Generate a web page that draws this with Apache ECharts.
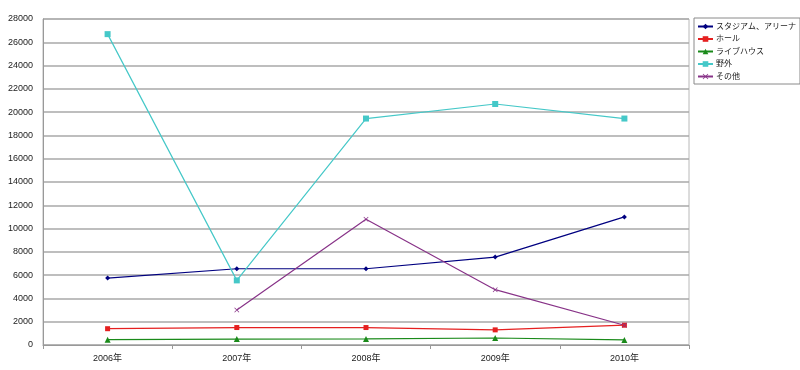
<!DOCTYPE html>
<html><head><meta charset="utf-8">
<script src="https://cdn.jsdelivr.net/npm/echarts@6/dist/echarts.min.js"></script>
<style>html,body{margin:0;padding:0;background:#fff}#c{width:800px;height:370px}</style>
</head><body><div id="c"></div>
<script>
const categories = ['2006年','2007年','2008年','2009年','2010年'];
const stadium = [5750, 6550, 6550, 7550, 11000];
const hall = [1400, 1500, 1500, 1300, 1700];
const livehouse = [460, 510, 520, 600, 440];
const outdoor = [26700, 5550, 19450, 20700, 19450];
const other = [null, 3000, 10800, 4750, 1700];
const seriesNames = ['スタジアム、アリーナ','ホール','ライブハウス','野外','その他'];
const yTicks = {min: 0, max: 28000, interval: 2000};

const font = "'Liberation Sans','Noto Sans CJK JP',sans-serif";
const xMark = 'path://M1,0L5,4L9,0L10,1L6,5L10,9L9,10L5,6L1,10L0,9L4,5L0,1Z';
function mk(name, data, color, symbol, size) {
  return {name, type:'line', data, symbol, symbolSize:size, showSymbol:true,
    connectNulls:false, animation:false,
    lineStyle:{color, width:1.2}, itemStyle:{color}};
}
const chart = echarts.init(document.getElementById('c'));
chart.setOption({
  animation:false,
  textStyle:{fontFamily:font},
  grid:{left:43, right:111, top:19, bottom:25, show:true, borderColor:'#b8b8b8', borderWidth:1},
  legend:{
    orient:'vertical', left:694, top:18,
    padding:[4,4,3,3], itemGap:3.5, itemWidth:15, itemHeight:7,
    borderColor:'#8a8a8a', borderWidth:1, backgroundColor:'#fff',
    textStyle:{fontSize:8, lineHeight:9, color:'#222', fontFamily:font, padding:[0,0,0,-2]},
    data:seriesNames
  },
  xAxis:{type:'category', data:categories, boundaryGap:true,
    axisLine:{lineStyle:{color:'#999'}},
    axisTick:{show:true, alignWithLabel:false, length:4, lineStyle:{color:'#999'}},
    axisLabel:{fontSize:9, color:'#222', margin:9}},
  yAxis:{type:'value', min:yTicks.min, max:yTicks.max, interval:yTicks.interval,
    axisLine:{show:true, lineStyle:{color:'#999'}},
    axisTick:{show:false},
    axisLabel:{fontSize:9, color:'#222', margin:10, formatter: v => String(v)},
    splitLine:{lineStyle:{color:'#a8a8a8', width:1.5}}},
  series:[
    mk(seriesNames[0], stadium, '#000080', 'diamond', 5),
    mk(seriesNames[1], hall, '#e52020', 'rect', 5),
    mk(seriesNames[2], livehouse, '#1a8a1a', 'triangle', 6),
    mk(seriesNames[3], outdoor, '#45c8c8', 'rect', 6),
    mk(seriesNames[4], other, '#883388', xMark, 5)
  ]
});
</script></body></html>
